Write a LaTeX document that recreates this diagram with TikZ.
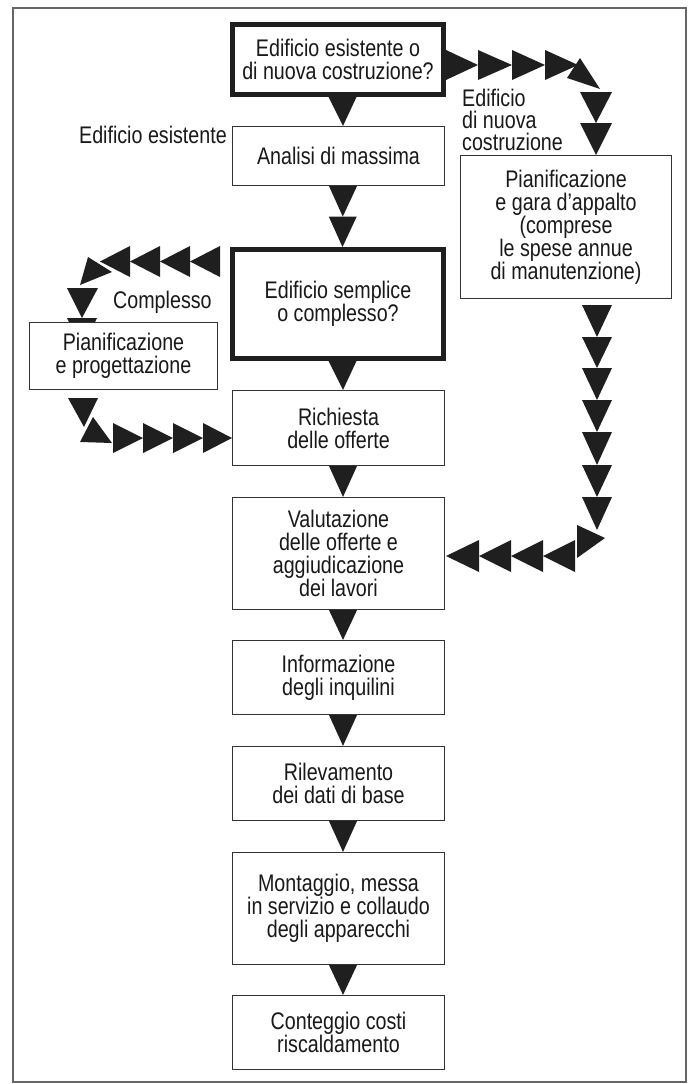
\documentclass[tikz,border=0pt]{standalone}
\usepackage{fontspec}
\setmainfont{Liberation Sans}[FakeStretch=0.82]
\usetikzlibrary{calc}
\newcommand\fsz{\fontsize{24}{23}\selectfont}
\begin{document}
\begin{tikzpicture}[x=1pt,y=-1pt,
  box/.style={draw=black!80, line width=1.2pt, fill=white, align=center,
    inner sep=0pt, font=\fsz, text=black!90, minimum width=212pt},
  thickbox/.style={box, line width=5pt, draw=black!88, minimum width=211pt},
  lbl/.style={font=\fsz, inner sep=0pt, text=black!90},
  trifill/.style={fill=black!88},
  frame/.style={draw=black!60, line width=1.6pt}]
\useasboundingbox (0,0) rectangle (689,1084);
\draw[frame] (13,8) rectangle (686,1082);

% hidden triangle partly behind the left box
\fill[trifill] (67,318) -- (97,318) -- (82,348) -- cycle;

% boxes
\node[thickbox, minimum height=70pt] (b1) at (338,59.5) {Edificio esistente o\\di nuova costruzione?};
\node[box, minimum height=59pt] (b2) at (338.5,156) {Analisi di massima};
\node[thickbox, minimum height=109pt] (b3) at (338,304) {Edificio semplice\\o complesso?};
\node[box, minimum height=75pt] (b4) at (338.5,428) {Richiesta\\delle offerte};
\node[box, minimum height=112pt] (b5) at (338.5,553.5) {Valutazione\\delle offerte e\\aggiudicazione\\dei lavori};
\node[box, minimum height=74pt] (b6) at (338.5,677.5) {Informazione\\degli inquilini};
\node[box, minimum height=74pt] (b7) at (338.5,783.5) {Rilevamento\\dei dati di base};
\node[box, minimum height=112pt] (b8) at (338.5,908.5) {Montaggio, messa\\in servizio e collaudo\\degli apparecchi};
\node[box, minimum height=74pt] (b9) at (338.5,1032.5) {Conteggio costi\\riscaldamento};
\node[box, minimum width=211pt, minimum height=143pt] (rb) at (566,227) {Pianificazione\\e gara d’appalto\\(comprese\\le spese annue\\di manutenzione)};
\node[box, minimum width=188pt, minimum height=67pt] (lb) at (123.5,356) {Pianificazione\\e progettazione};

% labels
\node[lbl, anchor=base east] (lex) at (227,143) {Edificio esistente};
\node[lbl, anchor=base west] (lcx) at (113,308) {Complesso};
\node[lbl, align=left, anchor=north west, font=\fontsize{24}{22}\selectfont] (lnew) at (462,89) {Edificio\\di nuova\\costruzione};

% main column connectors
\foreach \a/\b in {b1/b2, b3/b4, b4/b5, b5/b6, b6/b7, b7/b8, b8/b9}{
  \fill[trifill] ($(\a.south)+(-9.5,0)$) -- ($(\a.south)+(18.5,0)$) -- ($(\b.north)+(4.5,0)$) -- cycle;
}
\coordinate (m23) at ($(b2.south)!0.5!(b3.north)$);
\fill[trifill] ($(b2.south)+(-9.5,0)$) -- ($(b2.south)+(18.5,0)$) -- ($(m23)+(4.5,0)$) -- cycle;
\fill[trifill] ($(m23)+(-9.5,0)$) -- ($(m23)+(18.5,0)$) -- ($(b3.north)+(4.5,0)$) -- cycle;

% chain: b1 -> rb
\foreach \s/\e in {446/478, 478/512, 512/545, 545/578}{
  \fill[trifill] (\s,50) -- (\s,80) -- (\e,65) -- cycle;
}
\fill[trifill] (567,78) -- (580,58) -- (600,89) -- cycle;
\fill[trifill] (580,92) -- (612,92) -- (596,123) -- cycle;
\fill[trifill] (580,123) -- (612,123) -- (596,155) -- cycle;

% chain: rb -> b5
\foreach \s/\e in {305/337, 337/368, 368/400, 400/432, 432/465, 465/497, 497/530}{
  \fill[trifill] (582,\s) -- (612,\s) -- (597,\e) -- cycle;
}
\fill[trifill] (577,525) -- (577,558) -- (605,538) -- cycle;
\foreach \s/\e in {575/543, 543/511, 511/479, 479/446}{
  \fill[trifill] (\s,540) -- (\s,572) -- (\e,556) -- cycle;
}

% chain: b3 -> lb
\foreach \s/\e in {220/190, 190/160, 160/130, 130/100}{
  \fill[trifill] (\s,246) -- (\s,277) -- (\e,261.5) -- cycle;
}
\fill[trifill] (80,285) -- (88,257) -- (112,272) -- cycle;
\fill[trifill] (67,288) -- (98,288) -- (82,318) -- cycle;

% chain: lb -> b4
\fill[trifill] (68,398) -- (98,398) -- (84,427) -- cycle;
\fill[trifill] (93,417) -- (80,442) -- (112,443) -- cycle;
\foreach \s/\e in {113/143, 143/173, 173/203, 203/232}{
  \fill[trifill] (\s,423) -- (\s,453) -- (\e,438) -- cycle;
}
\end{tikzpicture}
\end{document}
